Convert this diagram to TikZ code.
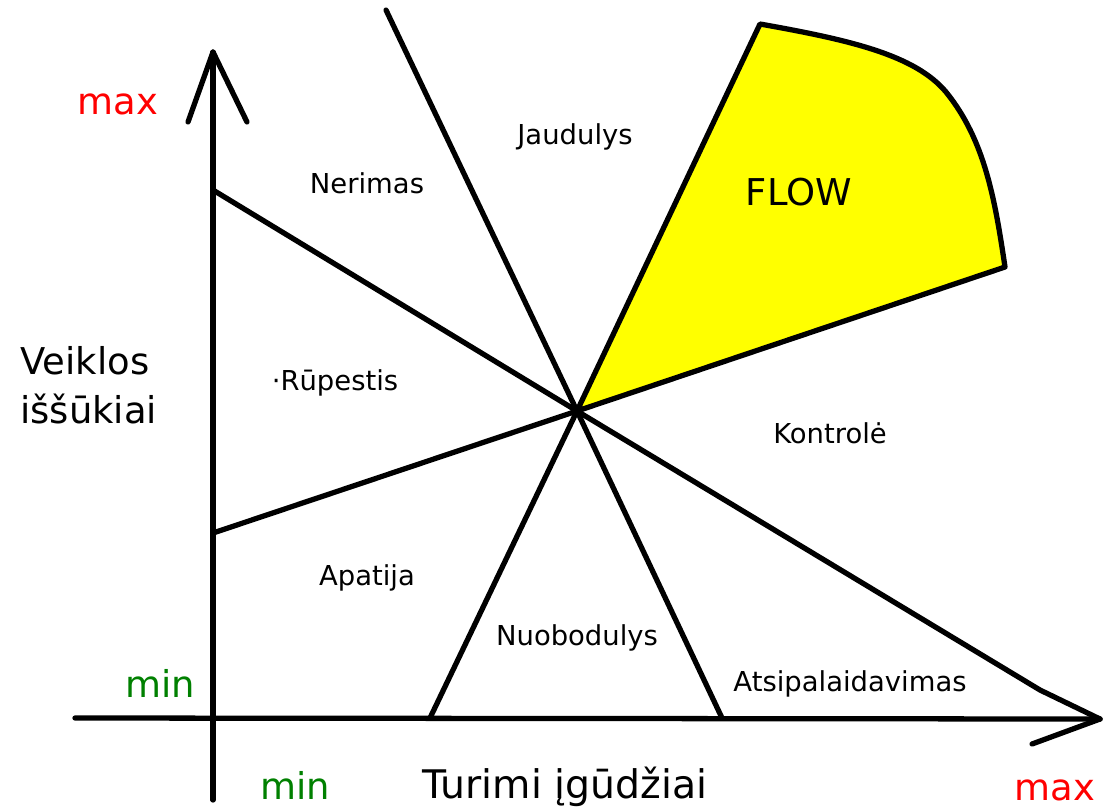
\documentclass[tikz,border=0pt]{standalone}
\usepackage{fontspec}
\setmainfont{DejaVu Sans}
\usepackage{tikz}

\definecolor{flowyellow}{RGB}{255,255,0}
\definecolor{minrgreen}{RGB}{0,128,0}
\definecolor{maxred}{RGB}{255,0,0}

\tikzset{
    zone/.style={font=\fontsize{7.8}{9}\selectfont},
    axislabel/.style={font=\fontsize{10.5}{12}\selectfont},
    bigline/.style={line width=1.5pt, line cap=round, line join=round}
}

\begin{document}
\begin{tikzpicture}[x=0.01cm, y=-0.01cm]
    \useasboundingbox (0,0) rectangle (1106,811);

    % Key points
    \coordinate (c) at (577,411);
    \coordinate (ytop) at (213,52);
    \coordinate (ybot) at (213,800);
    \coordinate (xleft) at (75,718);
    \coordinate (xright) at (1100,719);
    \coordinate (flowtop) at (760,24);
    \coordinate (flowright) at (1005,267);

    % Draw the yellow FLOW region
    \draw[bigline, fill=flowyellow] (c) -- (flowtop)
        .. controls (850,40) and (915,55) .. (946,92)
        .. controls (985,140) and (995,200) .. (flowright) -- cycle;

    % Draw the axes with open arrow heads
    \draw[bigline] (ybot) -- (ytop);
    \draw[bigline] (188,122) -- (ytop) -- (247,122);
    \draw[bigline] (xleft) -- (xright);
    \draw[bigline] (1032,744) -- (xright);

    % Draw the lines through the centre
    \draw[bigline] (213,190) -- (c) -- (1040,690) -- (xright);
    \draw[bigline] (386,10) -- (c) -- (722,718);
    \draw[bigline] (430,718) -- (c);
    \draw[bigline] (213,533) -- (c);

    % Draw the axis labels
    \node[axislabel, maxred] (ymax) at (118,104) {max};
    \node[axislabel, minrgreen] (ymin) at (160,683) {min};
    \node[axislabel, minrgreen] (xmin) at (295,785) {min};
    \node[axislabel, maxred] (xmax) at (1055,790) {max};
    \node[axislabel, font=\fontsize{11.2}{13}\selectfont] (xname) at (565,787) {Turimi įgūdžiai};
    \node[axislabel, align=left, anchor=west] (yname) at (8,385)
        {Veiklos\\[2pt]iššūkiai};

    % Draw the zone labels
    \node[zone] (nerimas) at (367,183) {Nerimas};
    \node[zone] (jaudulys) at (575,137) {Jaudulys};
    \node[axislabel] (flow) at (799,192) {FLOW};
    \node[zone] (rupestis) at (335,383) {·Rūpestis};
    \node[zone] (kontrole) at (830,433) {Kontrolė};
    \node[zone] (apatija) at (367,578) {Apatija};
    \node[zone] (nuobodulys) at (577,638) {Nuobodulys};
    \node[zone] (atsipalaidavimas) at (850,684) {Atsipalaidavimas};
\end{tikzpicture}
\end{document}
